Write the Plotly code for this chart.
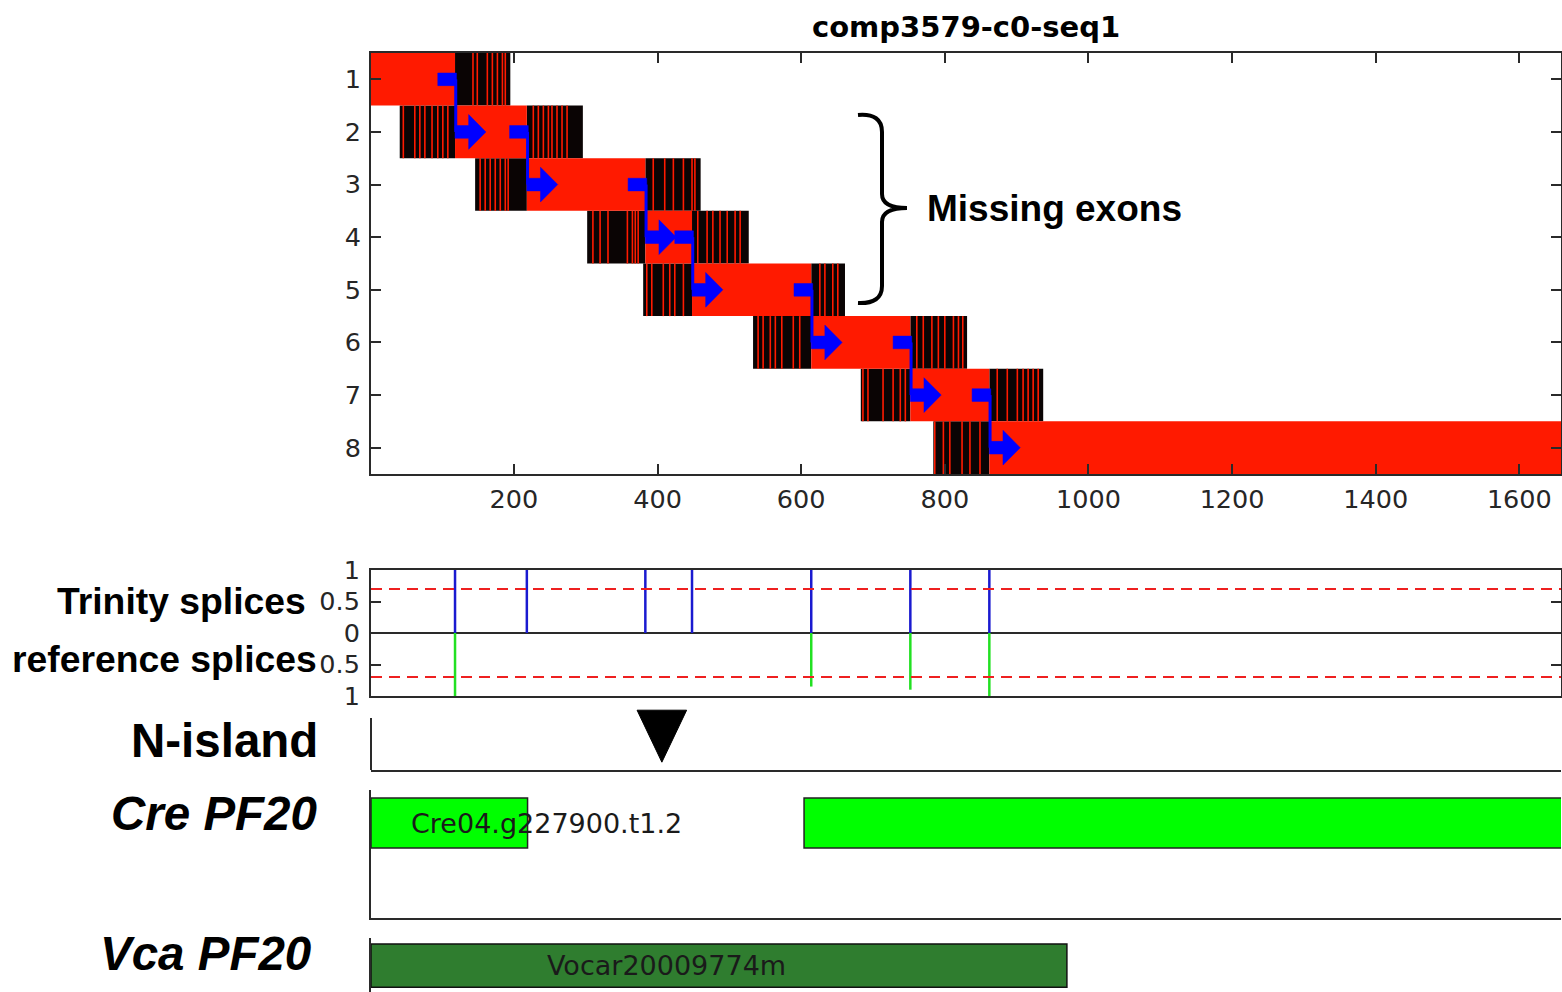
import plotly.graph_objects as go

W, H = 1562, 992

# ---------------- data ----------------
rows = [1, 2, 3, 4, 5, 6, 7, 8]
exon_start = [1, 118, 218, 383, 448, 614, 752, 862]
exon_end = [118, 218, 383, 448, 614, 752, 862, 1658]
left_flank_start = [None, 41, 146, 302, 380, 533, 683, 784]
right_flank_end = [195, 296, 460, 527, 661, 831, 937, None]
mismatch_pos = [
    [143, 149, 163, 170, 177, 184, 188],
    [46, 62, 69, 76, 86, 94, 101, 108, 227, 234, 241, 248, 253, 260, 267, 274],
    [153, 160, 167, 174, 181, 188, 192, 394, 410, 422, 436, 448, 452],
    [310, 320, 331, 358, 365, 369, 373, 456, 469, 477, 487, 497, 508, 515],
    [385, 392, 408, 417, 424, 436, 626, 633, 644, 651],
    [540, 547, 557, 564, 573, 589, 598, 761, 770, 782, 791, 800, 812, 819, 825],
    [686, 693, 714, 728, 738, 745, 873, 887, 901, 909, 916, 923, 930],
    [786, 798, 807, 824, 835, 849],
]
trinity_splice_pos = [118, 218, 383, 448, 614, 752, 862]
trinity_splice_val = [1, 1, 1, 1, 1, 1, 1]
ref_splice_pos = [118, 614, 752, 862]
ref_splice_val = [1.0, 0.85, 0.9, 1.0]
splice_threshold = 0.7
nisland_pos = [406]
cre_start = [1, 604]
cre_end = [219, 1720]
cre_label = "Cre04.g227900.t1.2"
cre_label_x = 54
vca_start = [1]
vca_end = [970]
vca_label = "Vocar20009774m"
vca_label_x = 243
x_range = [1, 1658]
x_ticks = [200, 400, 600, 800, 1000, 1200, 1400, 1600]

# ---------------- styling ----------------
RED = "#ff1a00"
BLACK = "#0a0404"
BLUE = "#0000ff"
AX = "#2a2a2a"
TICKFONT = dict(family="DejaVu Sans", size=25.5, color="#262626")
LABEL_FONT = "Liberation Sans, Arial, sans-serif"


def px(x):
    return x / W


def py(y):
    return 1 - y / H


XD = [px(371), px(1561)]

fig = go.Figure()

# ---------- top panel: flanks (black) ----------
fb_base, fb_len, fb_y = [], [], []
for i, r in enumerate(rows):
    if left_flank_start[i] is not None:
        fb_base.append(left_flank_start[i])
        fb_len.append(exon_start[i] - left_flank_start[i])
        fb_y.append(r)
    if right_flank_end[i] is not None:
        fb_base.append(exon_end[i])
        fb_len.append(right_flank_end[i] - exon_end[i])
        fb_y.append(r)
fig.add_trace(go.Bar(orientation="h", base=fb_base, x=fb_len, y=fb_y, width=1,
                     marker=dict(color=BLACK, line=dict(width=0)),
                     xaxis="x", yaxis="y", hoverinfo="skip"))
# exons (red)
fig.add_trace(go.Bar(orientation="h", base=exon_start,
                     x=[e - s for s, e in zip(exon_start, exon_end)], y=rows, width=1,
                     marker=dict(color=RED, line=dict(width=0)),
                     xaxis="x", yaxis="y", hoverinfo="skip"))
# mismatch stripes
sx, sy = [], []
for r, plist in zip(rows, mismatch_pos):
    for p in plist:
        sx += [p, p, None]
        sy += [r - 0.5, r + 0.5, None]
fig.add_trace(go.Scatter(x=sx, y=sy, mode="lines", line=dict(color=RED, width=1.6),
                         xaxis="x", yaxis="y", hoverinfo="skip"))
# blue junction markers
bx, by, cx, cy = [], [], [], []
for k in range(len(rows) - 1):
    s = exon_end[k]
    r0, r1 = rows[k], rows[k + 1]
    bx += [s - 24, s + 2, s + 2, s - 24, s - 24, None]
    by += [r0 - 0.12, r0 - 0.12, r0 + 0.12, r0 + 0.12, r0 - 0.12, None]
    bx += [s, s + 19, s + 19, s + 43, s + 19, s + 19, s, s, None]
    by += [r1 - 0.12, r1 - 0.12, r1 - 0.33, r1, r1 + 0.33, r1 + 0.12, r1 + 0.12, r1 - 0.12, None]
    cx += [s + 1, s + 1, None]
    cy += [r0, r1, None]
fig.add_trace(go.Scatter(x=cx, y=cy, mode="lines", line=dict(color=BLUE, width=3),
                         xaxis="x", yaxis="y", hoverinfo="skip"))
fig.add_trace(go.Scatter(x=bx, y=by, mode="lines", fill="toself", fillcolor=BLUE,
                         line=dict(color=BLUE, width=0.5),
                         xaxis="x", yaxis="y", hoverinfo="skip"))

# ---------- splice panel ----------
tx, ty = [], []
for p, v in zip(trinity_splice_pos, trinity_splice_val):
    tx += [p, p, None]
    ty += [0, v, None]
fig.add_trace(go.Scatter(x=tx, y=ty, mode="lines", line=dict(color="#1a1ad0", width=2.5),
                         xaxis="x2", yaxis="y2", hoverinfo="skip"))
gx, gy = [], []
for p, v in zip(ref_splice_pos, ref_splice_val):
    gx += [p, p, None]
    gy += [0, -v, None]
fig.add_trace(go.Scatter(x=gx, y=gy, mode="lines", line=dict(color="#22e022", width=2.5),
                         xaxis="x2", yaxis="y2", hoverinfo="skip"))
for sign in (1, -1):
    fig.add_trace(go.Scatter(x=x_range, y=[sign * splice_threshold] * 2, mode="lines",
                             line=dict(color="#ee2020", width=2, dash="11px,7px"),
                             xaxis="x2", yaxis="y2", hoverinfo="skip"))

# ---------- N-island ----------
nx, ny = [], []
for p in nisland_pos:
    nx += [p - 34.5, p + 34.5, p, p - 34.5, None]
    ny += [0.92, 0.92, 0.12, 0.92, None]
fig.add_trace(go.Scatter(x=nx, y=ny, mode="lines", fill="toself", fillcolor="black",
                         line=dict(color="black", width=1),
                         xaxis="x3", yaxis="y3", hoverinfo="skip"))

# ---------- Cre PF20 ----------
fig.add_trace(go.Bar(orientation="h", base=cre_start,
                     x=[e - s for s, e in zip(cre_start, cre_end)], y=[0.742] * len(cre_start),
                     width=0.39, marker=dict(color="#00ff00", line=dict(color="#222222", width=1.5)),
                     xaxis="x4", yaxis="y4", hoverinfo="skip"))

# ---------- Vca PF20 ----------
fig.add_trace(go.Bar(orientation="h", base=vca_start,
                     x=[e - s for s, e in zip(vca_start, vca_end)], y=[0.49] * len(vca_start),
                     width=0.8, marker=dict(color="#2f7d2f", line=dict(color="#111111", width=1.5)),
                     xaxis="x5", yaxis="y5", hoverinfo="skip"))

# ---------- axes ----------
common_x = dict(domain=XD, range=x_range, showgrid=False, zeroline=False, automargin=False)
layout = dict(
    template="none",
    width=W, height=H, margin=dict(l=0, r=0, t=0, b=0, pad=0, autoexpand=False), autosize=False,
    paper_bgcolor="white", plot_bgcolor="rgba(0,0,0,0)", showlegend=False,
    barmode="overlay",
    xaxis=dict(**common_x, anchor="y", tickvals=x_ticks, ticks="inside", ticklen=10,
               tickwidth=1.5, tickcolor=AX, showline=True, linecolor=AX, linewidth=2,
               mirror="ticks", tickfont=TICKFONT, ticklabelstandoff=1),
    yaxis=dict(domain=[py(474), py(53)], range=[8.5, 0.5], tickvals=rows, ticks="inside",
               ticklen=10, tickwidth=1.5, tickcolor=AX, showline=True, linecolor=AX,
               linewidth=2, mirror="ticks", tickfont=TICKFONT, showgrid=False,
               zeroline=False, anchor="x", ticklabelstandoff=3, automargin=False),
    xaxis2=dict(**common_x, anchor="y2", showticklabels=False, ticks="", showline=True,
                linecolor=AX, linewidth=2, mirror=True),
    yaxis2=dict(domain=[py(696), py(570)], range=[-1, 1], anchor="x2",
                tickvals=[-1, -0.5, 0, 0.5, 1], ticktext=["1", "0.5", "0", "0.5", "1"],
                ticks="inside", ticklen=10, tickwidth=1.5, tickcolor=AX, showline=True,
                linecolor=AX, linewidth=2, mirror="ticks", tickfont=TICKFONT,
                showgrid=False, zeroline=True, zerolinecolor=AX, zerolinewidth=2,
                ticklabelstandoff=4, automargin=False),
    xaxis3=dict(**common_x, anchor="y3", showticklabels=False, ticks="", showline=True,
                linecolor=AX, linewidth=2),
    yaxis3=dict(domain=[py(770), py(705)], range=[0, 1], anchor="x3", visible=False,
                automargin=False),
    xaxis4=dict(**common_x, anchor="y4", showticklabels=False, ticks="", showline=True,
                linecolor=AX, linewidth=2),
    yaxis4=dict(domain=[py(918), py(790)], range=[0, 1], anchor="x4", showticklabels=False,
                ticks="", showline=True, linecolor=AX, linewidth=2, showgrid=False,
                zeroline=False, automargin=False),
    xaxis5=dict(**common_x, anchor="y5", showticklabels=False, ticks="", showline=False),
    yaxis5=dict(domain=[0, py(938)], range=[0, 1], anchor="x5", showticklabels=False,
                ticks="", showline=True, linecolor=AX, linewidth=2, showgrid=False,
                zeroline=False, automargin=False),
)
fig.update_layout(**layout)

# N-island left border
fig.add_shape(type="line", xref="paper", yref="paper", x0=px(371), x1=px(371),
              y0=py(770), y1=py(718), line=dict(color=AX, width=2))

# brace
pts = (f"M {px(858)},{py(115)} Q {px(882)},{py(113)} {px(882)},{py(132)} "
       f"L {px(882)},{py(194)} Q {px(882)},{py(208)} {px(907)},{py(208)} "
       f"Q {px(882)},{py(208)} {px(882)},{py(222)} L {px(882)},{py(286)} "
       f"Q {px(882)},{py(304)} {px(858)},{py(303)}")
fig.add_shape(type="path", xref="paper", yref="paper", path=pts,
              line=dict(color="black", width=4))

ann = []
ann.append(dict(text="<b>comp3579-c0-seq1</b>", x=px(966), y=py(27), xref="paper",
                yref="paper", showarrow=False, xanchor="center", yanchor="middle",
                font=dict(family="DejaVu Sans", size=29, color="black")))
ann.append(dict(text="<b>Missing exons</b>", x=px(925), y=py(208), xref="paper",
                yref="paper", showarrow=False, xanchor="left", yanchor="middle",
                font=dict(family=LABEL_FONT, size=37, color="black")))
for txt, xr, yc, size in [("<b>Trinity splices</b>", 308, 601, 37.3),
                          ("<b>reference splices</b>", 319, 659, 37.3),
                          ("<b>N-island</b>", 320, 740, 47.5),
                          ("<b><i>Cre PF20</i></b>", 319, 813, 47.5),
                          ("<b><i>Vca PF20</i></b>", 313, 953, 47.5)]:
    ann.append(dict(text=txt, x=px(xr), y=py(yc), xref="paper", yref="paper",
                    showarrow=False, xanchor="right", yanchor="middle",
                    font=dict(family=LABEL_FONT, size=size, color="black")))
ann.append(dict(text=cre_label, x=cre_label_x, y=0.742, xref="x4", yref="y4",
                showarrow=False, xanchor="left", yanchor="middle",
                font=dict(family="DejaVu Sans", size=27, color="#1a1a1a")))
ann.append(dict(text=vca_label, x=vca_label_x, y=0.49, xref="x5", yref="y5",
                showarrow=False, xanchor="left", yanchor="middle",
                font=dict(family="DejaVu Sans", size=27, color="#1a1a1a")))
fig.update_layout(annotations=ann)

fig.write_html("out.html")
